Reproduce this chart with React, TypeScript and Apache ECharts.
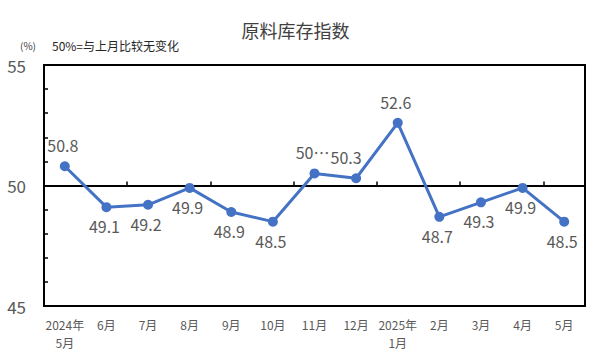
import React, { useEffect, useRef } from "react";
import * as echarts from "echarts";

const categories = ["2024年\n5月", "6月", "7月", "8月", "9月", "10月", "11月", "12月", "2025年\n1月", "2月", "3月", "4月", "5月"];
const values = [50.8, 49.1, 49.2, 49.9, 48.9, 48.5, 50.5, 50.3, 52.6, 48.7, 49.3, 49.9, 48.5];
const labelTexts = ["50.8", "49.1", "49.2", "49.9", "48.9", "48.5", "50…", "50.3", "52.6", "48.7", "49.3", "49.9", "48.5"];
const labelAbove = [true, false, false, false, false, false, true, true, true, false, false, false, false];
const yTickLabels = [45, 50, 55];

const FONT = "'Noto Sans CJK SC', 'Noto Sans', sans-serif";
const NUMFONT = "'Liberation Sans', 'Noto Sans', sans-serif";

export default function App() {
  const ref = useRef<HTMLDivElement>(null);
  useEffect(() => {
    document.body.style.margin = "0";
    const chart = echarts.init(ref.current!, null, { renderer: "svg" });
    const data = values.map((v, i) => ({
      value: v,
      label: {
        position: labelAbove[i] ? "top" : "bottom",
        offset: i === 7 ? [-10, 0] : i === 6 ? [-2, 0] : [-2, 0],
        distance: labelAbove[i] ? 8 : 6,
      },
    }));
    chart.setOption({
      animation: false,
      textStyle: { fontFamily: FONT },
      title: {
        text: "原料库存指数",
        left: "center",
        top: 16,
        textStyle: { fontSize: 18, fontWeight: "normal", color: "#404040", fontFamily: FONT },
      },
      graphic: [
        { type: "text", left: 20, top: 40, style: { text: "(%)", fontSize: 10, fill: "#404040", fontFamily: FONT } },
        { type: "text", left: 52, top: 39, style: { text: "50%=与上月比较无变化", fontSize: 12, fill: "#262626", fontFamily: FONT } },
      ],
      grid: { left: 44, right: 6, top: 65, bottom: 48, show: true, borderColor: "#000", borderWidth: 2, backgroundColor: "transparent" },
      xAxis: [
        {
          type: "category",
          data: categories,
          boundaryGap: true,
          axisLine: { show: true, onZero: true, onZeroAxisIndex: 1, lineStyle: { color: "#000", width: 2 } },
          axisTick: { show: true, inside: true, length: 4, lineStyle: { color: "#000", width: 1.5 } },
          axisLabel: { show: false },
        },
        {
          type: "category",
          data: categories,
          position: "bottom",
          boundaryGap: true,
          axisLine: { show: false },
          axisTick: { show: false },
          axisLabel: { show: true, color: "#595959", fontSize: 12, lineHeight: 18, margin: 9, interval: 0, fontFamily: FONT },
        },
      ],
      yAxis: [
        {
          type: "value",
          min: 45,
          max: 55,
          interval: 5,
          axisLine: { show: true, lineStyle: { color: "#000", width: 2 } },
          axisTick: { show: false, inside: true, length: 4 },
          minorTick: { show: true, splitNumber: 5, length: 4, lineStyle: { color: "#000", width: 1.5 } },
          splitLine: { show: false },
          axisLabel: {
            color: "#595959",
            fontSize: 17,
            margin: 18,
            formatter: (v: number) => (yTickLabels.includes(v) ? String(v) : ""),
            fontFamily: FONT,
          },
        },
        {
          type: "value",
          min: -5,
          max: 5,
          show: false,
        },
      ],
      series: [
        {
          type: "line",
          xAxisIndex: 0,
          yAxisIndex: 0,
          data,
          symbol: "circle",
          symbolSize: 10,
          itemStyle: { color: "#4472C4" },
          lineStyle: { color: "#4472C4", width: 3 },
          label: {
            show: true,
            fontSize: 16,
            color: "#595959",
            fontFamily: FONT,
            formatter: (p: any) => labelTexts[p.dataIndex],
          },
        },
      ],
    });
    return () => chart.dispose();
  }, []);
  return <div ref={ref} style={{ width: 591, height: 354, position: "absolute", left: 0, top: 0 }} />;
}
